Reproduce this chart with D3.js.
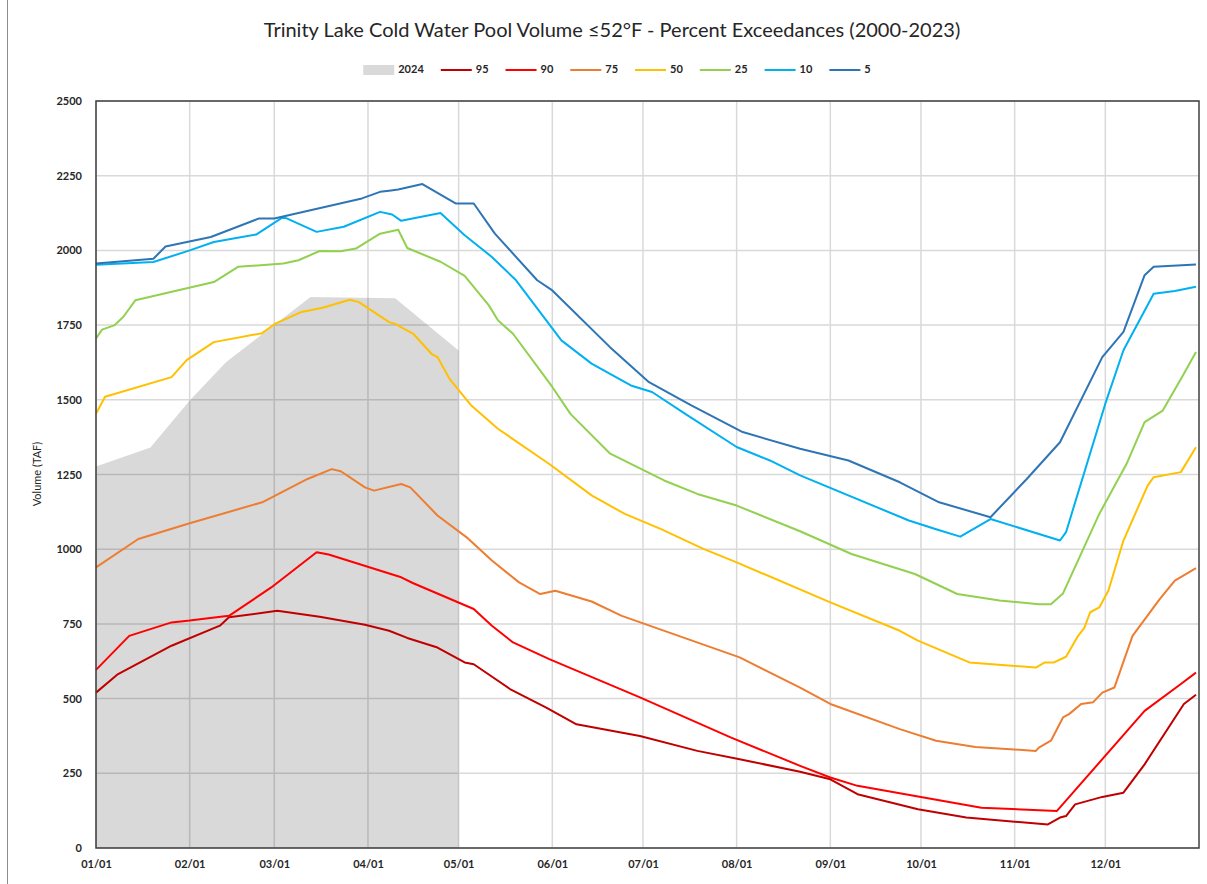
<!DOCTYPE html>
<html>
<head>
<meta charset="utf-8">
<script src="https://cdn.jsdelivr.net/npm/d3@7"></script>
<style>
  body { margin: 0; background: #fff; }
  text { font-family: Lato, "Open Sans", sans-serif; fill: #262626; }
</style>
</head>
<body>
<div id="chart"></div>
<script>
// Step 1: data (MM/DD, TAF)
//= ================================
var monthTicks = ["01/01", "02/01", "03/01", "04/01", "05/01", "06/01",
  "07/01", "08/01", "09/01", "10/01", "11/01", "12/01"];
var volumeTicks = [0, 250, 500, 750, 1000, 1250, 1500, 1750, 2000, 2250, 2500];

var y2024 = [["01/01", 1277], ["01/19", 1340], ["02/01", 1498], ["02/13", 1626],
  ["03/13", 1844], ["04/10", 1840], ["05/01", 1665]];

var p95 = [["01/01", 520], ["01/08", 580], ["01/26", 677], ["02/11", 744], ["02/14", 772],
  ["03/02", 794], ["03/16", 774], ["03/31", 747], ["04/08", 727], ["04/14", 703],
  ["04/24", 671], ["05/03", 621], ["05/06", 615], ["05/18", 532], ["05/30", 470],
  ["06/09", 414], ["06/30", 375], ["07/19", 325], ["08/02", 297], ["08/22", 255],
  ["09/01", 230], ["09/10", 180], ["09/30", 130], ["10/16", 102], ["11/01", 88],
  ["11/12", 79], ["11/16", 102], ["11/18", 107], ["11/21", 146], ["11/30", 171],
  ["12/07", 185], ["12/14", 280], ["12/27", 482], ["12/31", 513]];

var p90 = [["01/01", 596], ["01/12", 710], ["01/26", 755], ["02/01", 761], ["02/14", 777],
  ["02/28", 872], ["03/15", 990], ["03/19", 982], ["04/12", 906], ["04/16", 886],
  ["05/06", 800], ["05/12", 744], ["05/19", 688], ["05/31", 632], ["06/30", 504],
  ["07/30", 370], ["08/22", 275], ["09/01", 236], ["09/10", 208], ["10/21", 135],
  ["11/15", 124], ["12/14", 459], ["12/26", 549], ["12/31", 587]];

var p75 = [["01/01", 939], ["01/15", 1034], ["02/01", 1087], ["02/25", 1157], ["03/12", 1235],
  ["03/20", 1268], ["03/23", 1261], ["03/31", 1207], ["04/03", 1196], ["04/12", 1218],
  ["04/15", 1207], ["04/24", 1113], ["05/04", 1037], ["05/12", 962], ["05/21", 889],
  ["05/28", 850], ["06/02", 861], ["06/14", 825], ["06/24", 777], ["08/02", 638],
  ["08/22", 537], ["09/01", 482], ["09/24", 398], ["10/06", 359], ["10/19", 338],
  ["11/08", 325], ["11/09", 336], ["11/13", 359], ["11/17", 437], ["11/19", 448],
  ["11/23", 482], ["11/27", 488], ["11/30", 520], ["12/04", 537], ["12/10", 710],
  ["12/19", 833], ["12/24", 895], ["12/31", 937]];

var p50 = [["01/01", 1453], ["01/04", 1510], ["01/26", 1576], ["01/31", 1633], ["02/09", 1693],
  ["02/25", 1723], ["03/01", 1753], ["03/10", 1794], ["03/17", 1808], ["03/26", 1835],
  ["03/29", 1827], ["04/08", 1760], ["04/10", 1754], ["04/16", 1721], ["04/22", 1654],
  ["04/24", 1643], ["04/28", 1570], ["05/05", 1483], ["05/14", 1403], ["05/31", 1285],
  ["06/14", 1180], ["06/25", 1118], ["07/07", 1067], ["07/21", 1001], ["08/01", 956],
  ["09/01", 822], ["09/24", 727], ["09/30", 694], ["10/17", 621], ["10/31", 610],
  ["11/08", 604], ["11/11", 621], ["11/14", 621], ["11/18", 640], ["11/22", 710],
  ["11/24", 736], ["11/26", 789], ["11/29", 805], ["12/02", 861], ["12/07", 1029],
  ["12/15", 1213], ["12/17", 1241], ["12/26", 1258], ["12/31", 1341]];

var p25 = [["01/01", 1705], ["01/03", 1735], ["01/07", 1749], ["01/10", 1777], ["01/14", 1833],
  ["02/09", 1894], ["02/17", 1945], ["03/04", 1956], ["03/09", 1967], ["03/16", 1998],
  ["03/23", 1997], ["03/28", 2006], ["04/05", 2056], ["04/11", 2069], ["04/14", 2008],
  ["04/25", 1962], ["05/03", 1915], ["05/11", 1816], ["05/14", 1766], ["05/19", 1721],
  ["06/01", 1543], ["06/07", 1453], ["06/20", 1321], ["07/08", 1230], ["07/19", 1185],
  ["08/01", 1146], ["08/22", 1060], ["09/08", 984], ["09/29", 917], ["10/13", 850],
  ["10/27", 828], ["11/09", 816], ["11/13", 816], ["11/17", 852], ["11/29", 1118],
  ["12/08", 1285], ["12/14", 1425], ["12/20", 1464], ["12/27", 1587], ["12/31", 1660]];

var p10 = [["01/01", 1952], ["01/20", 1961], ["02/01", 2000], ["02/09", 2028], ["02/23", 2053],
  ["03/04", 2112], ["03/15", 2062], ["03/24", 2079], ["04/05", 2129], ["04/09", 2120],
  ["04/12", 2099], ["04/25", 2125], ["05/03", 2051], ["05/12", 1978], ["05/20", 1900],
  ["06/04", 1699], ["06/14", 1621], ["06/21", 1582], ["06/27", 1548], ["07/04", 1526],
  ["07/15", 1453], ["08/01", 1342], ["08/12", 1297], ["08/22", 1247], ["09/27", 1096],
  ["10/06", 1067], ["10/14", 1042], ["10/24", 1101], ["11/16", 1029], ["11/18", 1057],
  ["12/01", 1487], ["12/07", 1666], ["12/17", 1855], ["12/24", 1864], ["12/31", 1878]];

var p5 = [["01/01", 1956], ["01/20", 1972], ["01/24", 2013], ["02/08", 2045], ["02/24", 2107],
  ["03/01", 2107], ["03/30", 2174], ["04/05", 2196], ["04/08", 2200], ["04/11", 2204],
  ["04/19", 2222], ["04/30", 2157], ["05/06", 2157], ["05/13", 2056], ["05/27", 1900],
  ["06/01", 1866], ["06/20", 1677], ["07/03", 1559], ["07/17", 1481], ["08/03", 1392],
  ["08/22", 1336], ["09/07", 1297], ["09/24", 1224], ["10/07", 1157], ["10/24", 1107],
  ["11/05", 1235], ["11/16", 1358], ["11/30", 1643], ["12/07", 1727], ["12/14", 1917],
  ["12/17", 1945], ["12/31", 1953]];

var seriesNames = ["95", "90", "75", "50", "25", "10", "5"];
var seriesData = [p95, p90, p75, p50, p25, p10, p5];
var seriesColors = ["#c00000", "#ff0000", "#ed7d31", "#ffc000", "#92d050", "#00b0f0", "#2e75b6"];

// Step 2: svg and scales
//= ================================
var svgWidth = 1207;
var svgHeight = 884;
var plot = { left: 96, right: 1199, top: 101, bottom: 848 };

var svg = d3.select("#chart")
  .append("svg")
  .attr("width", svgWidth)
  .attr("height", svgHeight);

var parseDate = function(s) { return d3.timeParse("%m/%d/%Y")(s + "/2023"); };

var xScale = d3.scaleTime()
  .domain([parseDate("01/01"), new Date(2024, 0, 1)])
  .range([plot.left, plot.right]);

var yScale = d3.scaleLinear()
  .domain([0, 2500])
  .range([plot.bottom, plot.top]);

// outer frame edge
svg.append("line")
  .attr("x1", 7.5).attr("x2", 7.5)
  .attr("y1", 0).attr("y2", svgHeight)
  .attr("stroke", "#8c8c8c")
  .attr("stroke-width", 1);

// Step 3: gridlines
//= ================================
svg.append("g")
  .selectAll("line")
  .data(volumeTicks)
  .enter()
  .append("line")
  .attr("x1", plot.left).attr("x2", plot.right)
  .attr("y1", d => yScale(d)).attr("y2", d => yScale(d))
  .attr("stroke", "#d9d9d9")
  .attr("stroke-width", 1.5);

svg.append("g")
  .selectAll("line")
  .data(monthTicks)
  .enter()
  .append("line")
  .attr("x1", d => xScale(parseDate(d))).attr("x2", d => xScale(parseDate(d)))
  .attr("y1", plot.top).attr("y2", plot.bottom)
  .attr("stroke", "#d9d9d9")
  .attr("stroke-width", 1.5);

// Step 4: 2024 area and the exceedance lines
//= ================================
var area = d3.area()
  .x(d => xScale(parseDate(d[0])))
  .y0(yScale(0))
  .y1(d => yScale(d[1]));

svg.append("path")
  .datum(y2024)
  .attr("d", area)
  .attr("fill", "#000")
  .attr("fill-opacity", 0.15);

var line = d3.line()
  .x(d => xScale(parseDate(d[0])))
  .y(d => yScale(d[1]));

svg.append("g")
  .selectAll("path")
  .data(seriesData)
  .enter()
  .append("path")
  .attr("d", line)
  .attr("fill", "none")
  .attr("stroke", (d, i) => seriesColors[i])
  .attr("stroke-width", 2)
  .attr("stroke-linejoin", "round");

// plot border
svg.append("rect")
  .attr("x", plot.left)
  .attr("y", plot.top)
  .attr("width", plot.right - plot.left)
  .attr("height", plot.bottom - plot.top)
  .attr("fill", "none")
  .attr("stroke", "#404040")
  .attr("stroke-width", 1.5);

// Step 5: axes
//= ================================
var xAxis = d3.axisBottom(xScale)
  .tickValues(monthTicks.map(parseDate))
  .tickFormat(d3.timeFormat("%m/%d"))
  .tickSize(0)
  .tickPadding(12);

var yAxis = d3.axisLeft(yScale)
  .tickValues(volumeTicks)
  .tickFormat(d3.format("d"))
  .tickSize(0)
  .tickPadding(14);

var gx = svg.append("g")
  .attr("transform", `translate(0, ${plot.bottom})`)
  .call(xAxis);
var gy = svg.append("g")
  .attr("transform", `translate(${plot.left}, 0)`)
  .call(yAxis);

[gx, gy].forEach(function(g) {
  g.select(".domain").remove();
  g.selectAll("text")
    .attr("fill", "#262626")
    .style("font-family", "Lato, sans-serif")
    .style("font-size", "11px")
    .style("font-weight", "bold");
});

svg.append("text")
  .attr("transform", `translate(38, 474) rotate(-90)`)
  .attr("text-anchor", "middle")
  .attr("dominant-baseline", "middle")
  .style("font-size", "11px")
  .text("Volume (TAF)");

// Step 6: title and legend
//= ================================
svg.append("text")
  .attr("x", 612)
  .attr("y", 32)
  .attr("text-anchor", "middle")
  .attr("dominant-baseline", "middle")
  .style("font-size", "20px")
  .text("Trinity Lake Cold Water Pool Volume ≤52°F - Percent Exceedances (2000-2023)");

var legend = svg.append("g");
var legendItems = ["2024"].concat(seriesNames);
var lx = 0;
legendItems.forEach(function(name, i) {
  var item = legend.append("g").attr("transform", `translate(${lx}, 70)`);
  if (i === 0) {
    item.append("rect")
      .attr("x", 0).attr("y", -5)
      .attr("width", 31).attr("height", 10)
      .attr("fill", "#d9d9d9");
  } else {
    item.append("line")
      .attr("x1", 0).attr("x2", 31)
      .attr("stroke", seriesColors[i - 1])
      .attr("stroke-width", 2);
  }
  var t = item.append("text")
    .attr("x", 35)
    .attr("dominant-baseline", "middle")
    .style("font-size", "11px")
    .style("font-weight", "bold")
    .text(name);
  lx += 35 + t.node().getComputedTextLength() + 17;
});
var legendWidth = lx - 17;
legend.attr("transform", `translate(${617 - legendWidth / 2}, 0)`);
</script>
</body>
</html>
